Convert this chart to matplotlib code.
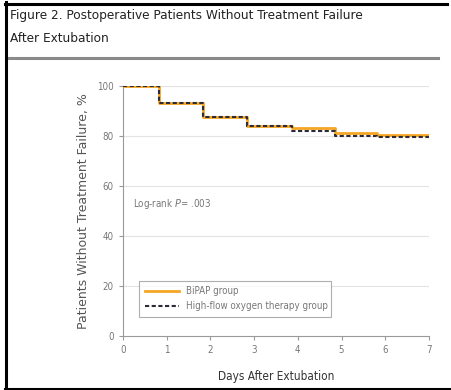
import matplotlib.pyplot as plt
from matplotlib.lines import Line2D

# Kaplan-Meier style step data (day of event, % without failure)
days_bipap = [0, 0.82, 1.83, 2.84, 3.87, 4.85, 5.8, 7.0]
pct_bipap = [100, 93, 87.5, 84, 83, 81, 80.5, 80.5]
days_hf = [0, 0.82, 1.83, 2.84, 3.87, 4.85, 5.8, 7.0]
pct_hf = [100, 93, 87.5, 84, 82, 80, 79.5, 79.5]

x_ticks = [0, 1, 2, 3, 4, 5, 6, 7]
y_ticks = [0, 20, 40, 60, 80, 100]

narrow = dict(family="DejaVu Sans", stretch="condensed")
grey = "#777777"

fig = plt.figure(figsize=(4.52, 3.90), dpi=100)
fig.patch.set_facecolor("white")

# frame lines and title rule
fig.add_artist(Line2D([6/452, 6/452], [0, 1 - 2/390], color="black", lw=2.2))
fig.add_artist(Line2D([5/452, 447/452], [1 - 3.5/390, 1 - 3.5/390], color="black", lw=2.2))
fig.add_artist(Line2D([5/452, 1], [1.5/390, 1.5/390], color="black", lw=2.2))
fig.add_artist(Line2D([9/452, 438/452], [1 - 58/390, 1 - 58/390], color="#8a8a8a", lw=2.2))

fig.text(10/452, 1 - 15/390, "Figure 2. Postoperative Patients Without Treatment Failure",
         fontsize=9.7, color="#222222", va="center", **narrow)
fig.text(10/452, 1 - 38/390, "After Extubation",
         fontsize=9.7, color="#222222", va="center", **narrow)

ax = fig.add_axes([123/452, 54/390, 306/452, 250/390])
ax.set_xlim(0, 7)
ax.set_ylim(0, 100)

ax.step(days_bipap, pct_bipap, where="post", color="#f5a623", lw=2.0,
        label="BiPAP group", zorder=3)
ax.step(days_hf, pct_hf, where="post", color="#2b2b3a", lw=1.5,
        linestyle=(0, (2, 1.2)), label="High-flow oxygen therapy group", zorder=4)

for y in y_ticks[1:]:
    ax.axhline(y, color="#e3e3e3", lw=0.8, zorder=1)

for s in ["top", "right"]:
    ax.spines[s].set_visible(False)
for s in ["left", "bottom"]:
    ax.spines[s].set_color("#9a9a9a")
    ax.spines[s].set_linewidth(0.8)

ax.set_xticks(x_ticks)
ax.set_yticks(y_ticks)
ax.tick_params(colors="#9a9a9a", labelcolor=grey, labelsize=7, length=3, width=0.8)
for lbl in ax.get_xticklabels() + ax.get_yticklabels():
    lbl.set_family("DejaVu Sans")
    lbl.set_stretch("condensed")

ax.set_xlabel("Days After Extubation", fontsize=8.5, color="#333333", labelpad=11, **narrow)
ax.set_ylabel("Patients Without Treatment Failure, %", fontsize=9.0, color="#555555", labelpad=5)

ax.text(0.23, 52.8, "Log-rank $\\it{P}$= .003", fontsize=7, color=grey, va="center", **narrow)

leg = ax.legend(loc="lower left", bbox_to_anchor=(0.25 / 7, 0.056, 4.62 / 7, 0.208),
                mode="expand", frameon=True, fancybox=False,
                handlelength=3.5, borderpad=0.6, labelspacing=0.5,
                prop={"family": "DejaVu Sans", "stretch": "condensed", "size": 7})
leg.get_frame().set_edgecolor("#9a9a9a")
leg.get_frame().set_linewidth(0.8)
for t in leg.get_texts():
    t.set_color(grey)

fig.savefig("out.png", dpi=100)
